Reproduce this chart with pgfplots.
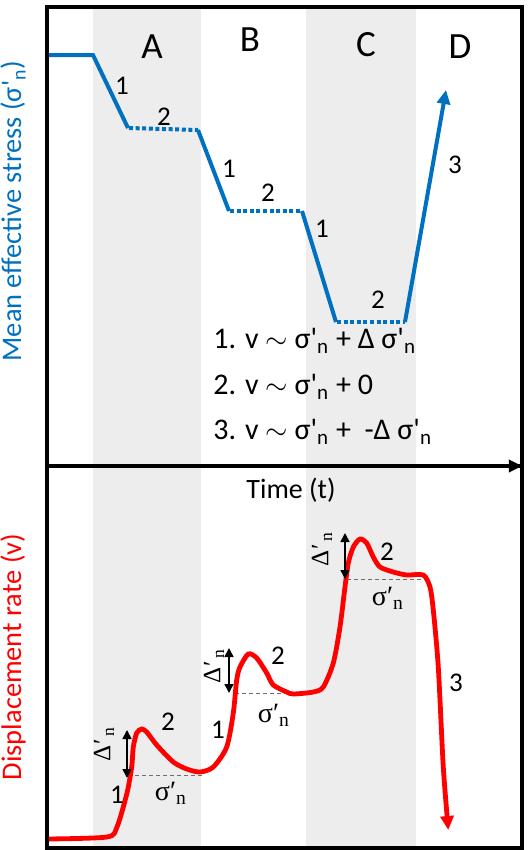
\documentclass[border=0pt]{standalone}
\usepackage[no-math]{fontspec}
\setmainfont{Carlito}
\newfontfamily\serifgr{Liberation Serif}
\usepackage{pgfplots}
\pgfplotsset{compat=1.18}
\usetikzlibrary{arrows.meta}
\definecolor{sblue}{RGB}{0,112,192}
\definecolor{band}{RGB}{237,237,237}
\definecolor{dgray}{RGB}{110,110,110}
\newcommand\sn{σ\textquotesingle\textsubscript{n}}
\newcommand\ssn{{\serifgr σ′\textsubscript{n}}}
\newcommand\sdn{{\serifgr Δ\kern0.5pt′\kern1pt\textsubscript{n}}}
\newcommand\fs[1]{\fontsize{#1}{#1}\selectfont}
\begin{document}
\begin{tikzpicture}
\path[use as bounding box] (0,0) rectangle (264bp,-425bp);
% ---------------- upper panel: mean effective stress
\begin{axis}[
  at={(23.5bp,-233bp)}, anchor=south west,
  x=0.5bp, y=0.5bp,
  xmin=47, xmax=522, ymin=0, ymax=459,
  xtick=\empty, ytick=\empty,
  axis line style={line width=2bp},
  axis on top, clip=false,
]
\addplot[fill=band, draw=none] coordinates {(93,459) (201,459)} \closedcycle;
\addplot[fill=band, draw=none] coordinates {(306,459) (416,459)} \closedcycle;
\addplot[sblue, line width=2bp] coordinates {(47,411) (93,411) (128,338)};
\addplot[sblue, line width=2bp, dash pattern=on 2bp off 1.3bp] coordinates {(129,338) (198,336)};
\addplot[sblue, line width=2bp] coordinates {(198,336) (229,255)};
\addplot[sblue, line width=2bp, dash pattern=on 2bp off 1.3bp] coordinates {(230,255) (302,255)};
\addplot[sblue, line width=2bp] coordinates {(302,255) (336,144)};
\addplot[sblue, line width=2bp, dash pattern=on 2bp off 1.3bp] coordinates {(337,144) (405,144)};
\addplot[sblue, line width=2bp, -{Triangle[width=6.5bp,length=7bp]}] coordinates {(405,144) (446,376)};
\begin{scope}[every node/.style={font=\fs{18.5bp}}]
\node at (axis cs:152,419) {A};
\node at (axis cs:250,426) {B};
\node at (axis cs:366,421) {C};
\node at (axis cs:460,419) {D};
\end{scope}
\begin{scope}[every node/.style={font=\fs{13.5bp}}]
\node at (axis cs:122,380) {1};
\node at (axis cs:164,349) {2};
\node at (axis cs:229,297) {1};
\node at (axis cs:268,273) {2};
\node at (axis cs:322,237) {1};
\node at (axis cs:378,166) {2};
\node at (axis cs:455,301) {3};
\end{scope}
\begin{scope}[every node/.style={font=\fs{15bp}, anchor=west, inner sep=0pt}]
\node at (axis cs:213,125) {1. v $\sim$ \sn{} + Δ \sn};
\node at (axis cs:213,79) {2. v $\sim$ \sn{} + 0};
\node at (axis cs:213,34) {3. v $\sim$ \sn{} +~ -Δ \sn};
\end{scope}
\node[rotate=90, text=sblue, font=\fs{14.2bp}] at (axis cs:13,255) {Mean effective stress (\sn)};
\draw[line width=2bp, -{Triangle[width=6bp,length=6.5bp]}] (axis cs:47,0) -- (axis cs:522,0);
\end{axis}
% ---------------- lower panel: displacement rate
\begin{axis}[
  at={(23.5bp,-233bp)}, anchor=north west,
  x=0.5bp, y=0.5bp,
  xmin=47, xmax=522, ymin=0, ymax=382,
  xtick=\empty, ytick=\empty,
  axis line style={line width=2bp},
  axis on top, clip=false,
]
\addplot[fill=band, draw=none] coordinates {(93,382) (201,382)} \closedcycle;
\addplot[fill=band, draw=none] coordinates {(306,382) (416,382)} \closedcycle;
\addplot[dgray, line width=0.5bp, dash pattern=on 2bp off 1.5bp] coordinates {(135,73) (205,73)};
\addplot[dgray, line width=0.5bp, dash pattern=on 2bp off 1.5bp] coordinates {(235,155) (313,155)};
\addplot[dgray, line width=0.5bp, dash pattern=on 2bp off 1.5bp] coordinates {(347,269) (425,269)};
\addplot[red, line width=2.4bp, smooth, tension=0.45, -{Triangle[width=6.5bp,length=7bp]}] coordinates {
 (48,9) (107,11) (117,21) (127,55) (131.7,81) (133.3,101) (136.7,115) (141.7,119) (146.7,116)
 (156.7,103) (173.3,86) (186.7,79) (200,76) (213.3,81) (226.7,101) (233.3,135) (236.7,168)
 (240,181) (248.3,194) (256.7,190) (266.7,175) (273.3,163) (286.7,156) (293.3,154) (313.3,156)
 (323.3,161) (333.3,185) (340,221) (345,261) (348.3,285) (353.3,301) (360,309) (366.7,305)
 (373.3,291) (380,281) (393.3,276) (406.7,273) (423.3,273) (430,261) (433.3,238) (438.3,181)
 (443.3,81) (448.3,18)};
\addplot[black, line width=0.8bp, {Triangle[width=4.5bp,length=4.5bp]}-{Triangle[width=4.5bp,length=4.5bp]}] coordinates {(127,70) (127,118)};
\addplot[black, line width=0.8bp, {Triangle[width=4.5bp,length=4.5bp]}-{Triangle[width=4.5bp,length=4.5bp]}] coordinates {(229,155) (229,200)};
\addplot[black, line width=0.8bp, {Triangle[width=4.5bp,length=4.5bp]}-{Triangle[width=4.5bp,length=4.5bp]}] coordinates {(345,269) (345,315)};
\begin{scope}[every node/.style={font=\fs{13.5bp}}]
\node at (axis cs:168,126) {2};
\node at (axis cs:117,53) {1};
\node at (axis cs:278,192) {2};
\node at (axis cs:218,118) {1};
\node at (axis cs:387,296) {2};
\node at (axis cs:456,165) {3};
\end{scope}
\begin{scope}[every node/.style={font=\fs{14bp}}]
\node at (axis cs:171,55) {\ssn};
\node at (axis cs:274,133) {\ssn};
\node at (axis cs:388,250) {\ssn};
\end{scope}
\begin{scope}[every node/.style={font=\fs{12.5bp}, rotate=90}]
\node at (axis cs:104,104) {\sdn};
\node at (axis cs:214,182) {\sdn};
\node at (axis cs:322,299) {\sdn};
\end{scope}
\node[font=\fs{14bp}] at (axis cs:291,358) {Time (t)};
\node[rotate=90, text=red, font=\fs{14.2bp}] at (axis cs:13,191) {Displacement rate (v)};
\end{axis}
\end{tikzpicture}
\end{document}
